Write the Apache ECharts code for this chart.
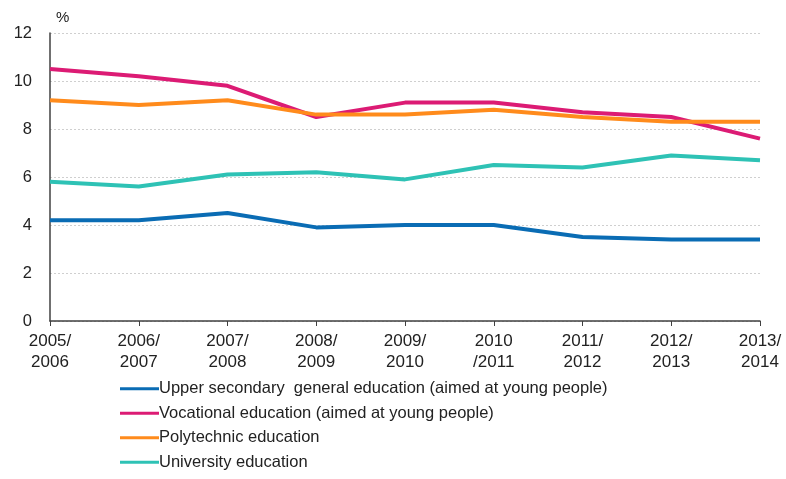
<!DOCTYPE html>
<html>
<head>
<meta charset="utf-8">
<script src="https://cdn.jsdelivr.net/npm/echarts@6/dist/echarts.min.js"></script>
<style>
  html, body { margin: 0; padding: 0; background: #fff; }
  #chart { width: 786px; height: 479px; }
</style>
</head>
<body>
<div id="chart"></div>
<script>
// school years
const years = ['2005/\n2006', '2006/\n2007', '2007/\n2008', '2008/\n2009', '2009/\n2010',
  '2010\n/2011', '2011/\n2012', '2012/\n2013', '2013/\n2014'];

// values in %
const upperSecondary = [4.2, 4.2, 4.5, 3.9, 4.0, 4.0, 3.5, 3.4, 3.4];
const vocational = [10.5, 10.2, 9.8, 8.5, 9.1, 9.1, 8.7, 8.5, 7.6];
const polytechnic = [9.2, 9.0, 9.2, 8.6, 8.6, 8.8, 8.5, 8.3, 8.3];
const university = [5.8, 5.6, 6.1, 6.2, 5.9, 6.5, 6.4, 6.9, 6.7];

const seriesNames = [
  'Upper secondary  general education (aimed at young people)',
  'Vocational education (aimed at young people)',
  'Polytechnic education',
  'University education'
];
const colors = ['#0a6cb4', '#dc1b74', '#ff8b1c', '#2ec2b5'];

const chart = echarts.init(document.getElementById('chart'));

const mkLine = (name, data, color) => ({
  name: name,
  type: 'line',
  data: data,
  symbol: 'none',
  lineStyle: { width: 4, color: color },
  itemStyle: { color: color }
});

const option = {
  animation: false,
  textStyle: { fontFamily: 'Liberation Sans, Arial, sans-serif' },
  grid: { left: 50, right: 26, top: 33, bottom: 158 },
  xAxis: {
    type: 'category',
    data: years,
    boundaryGap: false,
    axisLine: { lineStyle: { color: '#404040', width: 1.5 } },
    axisTick: { show: true, length: 5, lineStyle: { color: '#404040' } },
    axisLabel: { color: '#222', fontSize: 17, lineHeight: 21, margin: 10, interval: 0 }
  },
  yAxis: {
    type: 'value',
    min: 0,
    max: 12,
    interval: 2,
    name: '%',
    nameLocation: 'end',
    nameGap: 8,
    nameTextStyle: { color: '#222', fontSize: 15, align: 'left', padding: [0, 0, 0, 6] },
    axisLine: { show: true, lineStyle: { color: '#404040', width: 1.5 } },
    axisTick: { show: false },
    axisLabel: { color: '#222', fontSize: 16.5, margin: 18 },
    splitLine: { lineStyle: { color: '#cfcfcf', type: [2, 2], width: 1 } }
  },
  legend: {
    orient: 'vertical',
    left: 120,
    top: 379,
    padding: 0,
    itemWidth: 39,
    itemHeight: 3,
    itemGap: 5,
    icon: 'rect',
    textStyle: { color: '#222', fontSize: 16.5, lineHeight: 19.5, padding: [0, 0, 0, -5] },
    data: seriesNames
  },
  series: [
    mkLine(seriesNames[0], upperSecondary, colors[0]),
    mkLine(seriesNames[1], vocational, colors[1]),
    mkLine(seriesNames[2], polytechnic, colors[2]),
    mkLine(seriesNames[3], university, colors[3])
  ]
};

chart.setOption(option);
</script>
</body>
</html>
